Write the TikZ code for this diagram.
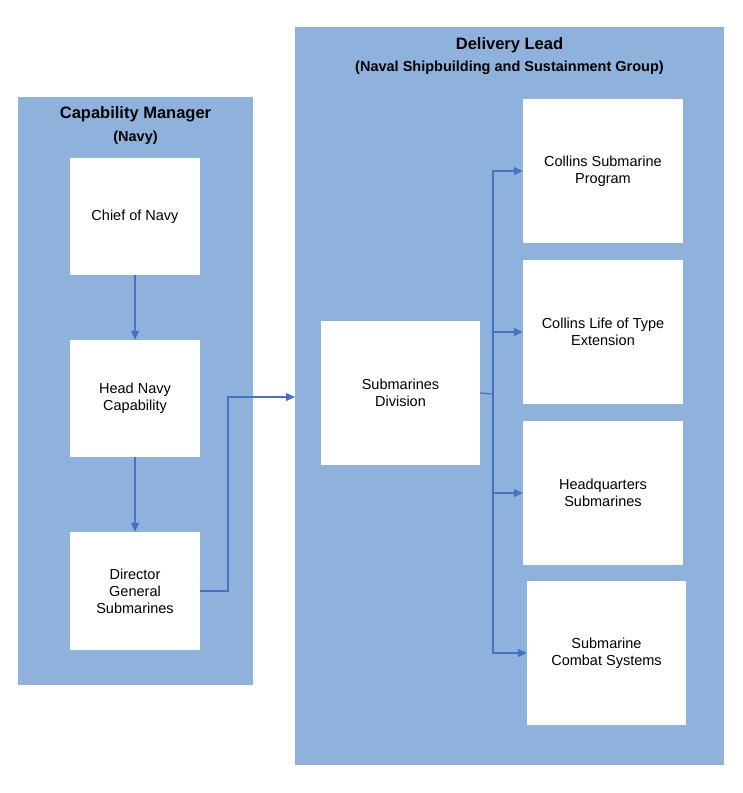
\documentclass[tikz,border=0pt]{standalone}
\usepackage{fontspec}
\setmainfont{Liberation Sans}
\usetikzlibrary{arrows.meta}
\definecolor{panel}{HTML}{8FB2DC}
\definecolor{arr}{HTML}{4472C4}
\begin{document}
\begin{tikzpicture}[x=1pt,y=-1pt,
  panel/.style={fill=panel,draw=none},
  box/.style={fill=white,draw=none},
  lab/.style={font=\fontsize{14.5}{17}\selectfont,align=center},
  ttl/.style={font=\bfseries\fontsize{16.5}{20}\selectfont,align=center},
  con/.style={draw=arr,line width=1.2pt,-{Triangle[length=9pt,width=8pt]}}]
\useasboundingbox (0,0) rectangle (743,793);
\fill[panel] (18,97) rectangle (253,685);
\fill[panel] (295,27) rectangle (724,765);
\node[ttl] (t1) at (135.5,114) {Capability Manager};
\node[ttl,font=\bfseries\fontsize{14.5}{17}\selectfont] (t1b) at (135.5,138) {(Navy)};
\node[ttl] (t2) at (509.5,45) {Delivery Lead};
\node[ttl,font=\bfseries\fontsize{14.5}{17}\selectfont] (t2b) at (509.5,68) {(Naval Shipbuilding and Sustainment Group)};
\node[box,minimum width=130pt,minimum height=117pt,lab] (chief) at (135,216.5) {Chief of Navy};
\node[box,minimum width=130pt,minimum height=117pt,lab] (head) at (135,398.5) {Head Navy\\Capability};
\node[box,minimum width=130pt,minimum height=118pt,lab] (dir) at (135,591) {Director\\General\\Submarines};
\node[box,minimum width=159pt,minimum height=144pt,lab] (div) at (400.5,393) {Submarines\\Division};
\node[box,minimum width=160pt,minimum height=144pt,lab] (c1) at (603,171) {Collins Submarine\\Program};
\node[box,minimum width=160pt,minimum height=144pt,lab] (c2) at (603,332) {Collins Life of Type\\Extension};
\node[box,minimum width=160pt,minimum height=144pt,lab] (c3) at (603,493) {Headquarters\\Submarines};
\node[box,minimum width=159pt,minimum height=144pt,lab] (c4) at (606.5,653) {Submarine\\Combat Systems};
\coordinate (p2) at (295,397);
\coordinate (bus) at (493,394);
\draw[con] (chief) -- (head);
\draw[con] (head) -- (dir);
\draw[con] (dir.east) -- (228,591) -- (228,397) -- (p2);
\draw[draw=arr,line width=1.2pt] (div.east) -- (bus);
\draw[con] (bus) |- (c1.west);
\draw[con] (bus) |- (c2.west);
\draw[con] (bus) |- (c3.west);
\draw[con] (bus) |- (c4.west);
\end{tikzpicture}
\end{document}
